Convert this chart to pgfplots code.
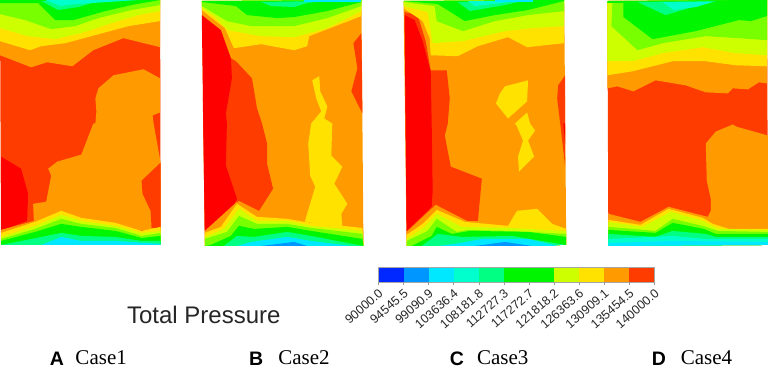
\documentclass[border=0pt]{standalone}
\usepackage{fontspec}
\setmainfont{Liberation Serif}
\newfontfamily\arial{Liberation Sans}
\usepackage{pgfplots}
\pgfplotsset{compat=1.18}
\definecolor{cblue}{RGB}{0,40,255}
\definecolor{cazure}{RGB}{0,150,255}
\definecolor{ccyan}{RGB}{0,232,255}
\definecolor{cteal}{RGB}{0,255,205}
\definecolor{cspring}{RGB}{0,255,130}
\definecolor{cgreen}{RGB}{0,245,0}
\definecolor{clime}{RGB}{120,255,0}
\definecolor{cyg}{RGB}{205,255,0}
\definecolor{cyel}{RGB}{255,226,0}
\definecolor{corg}{RGB}{255,155,0}
\definecolor{cro}{RGB}{255,60,0}
\definecolor{cred}{RGB}{255,0,0}
\newcommand{\poly}[2]{\addplot[fill=#1,draw=none,no markers] coordinates {#2} --cycle;}
\begin{document}
\begin{tikzpicture}
\begin{axis}[
  scale only axis, width=768bp, height=368bp,
  xmin=0, xmax=768, ymin=0, ymax=368, y dir=reverse,
  hide axis, clip=false]
% ---------- Panel A
\poly{cro}{(2,2)(161.5,2)(162,246)(3,246)}
\poly{corg}{(2,57)(33,69)(49,64)(74,68)(95,52)(125,40)(161.5,49)(161.5,2)(2,2)}
\poly{cyel}{(2,43)(32,52)(43,48)(67,45)(93,38)(130,28)(161.5,23)(161.5,2)(2,2)}
\poly{cyg}{(2,30)(30,38)(57,41)(83,35)(113,25)(140,17)(161.5,13)(161.5,2)(2,2)}
\poly{clime}{(2,16)(27,22)(53,31)(77,28)(100,20)(133,12)(161.5,7)(161.5,2)(2,2)}
\poly{cgreen}{(2,5)(20,5)(40,5)(57,22)(75,22)(107,13)(133,7)(161.5,2)(2,2)}
\poly{cspring}{(43,3)(60,12)(80,9)(100,3)}
\poly{cteal}{(47,2)(62,8)(78,6)(140,2)}
\poly{corg}{(97,100)(98,113)(97,125)(95,125)(83,156)(59,163)(50,170)(53,177)(48,203)(35,205)(36,228)(162,232)(162,164)(155,125)(154,117)(161.5,114)(161.5,80)(145,71)(115,77)(100,90)}
\poly{cro}{(162,164)(143,182)(144,195)(152,212)(153,229)(162,229)}
\poly{cred}{(3,158)(23,170)(30,195)(29,222)(3,232)}
\poly{corg}{(3,231)(36,222)(63,212)(83,219)(117,224)(143,232)(162,229)(162,246)(3,246)}
\poly{cyel}{(3,234)(37,223)(63,212)(83,219)(117,224)(143,232)(162,228)(162,246)(3,246)}
\poly{cyg}{(3,238)(37,227)(63,216)(83,222)(117,227)(143,234)(162,232)(162,246)(3,246)}
\poly{clime}{(3,240)(37,230)(63,220)(83,225)(117,229)(143,237)(162,234)(162,246)(3,246)}
\poly{cgreen}{(3,242)(37,233)(63,225)(83,228)(117,232)(143,239)(162,237)(162,246)(3,246)}
\poly{cspring}{(3,246)(33,240)(63,234)(83,237)(117,238)(143,242)(162,242)(162,246)}
\poly{ccyan}{(43,246)(63,238)(83,242)(117,242)(162,245)(162,246)}
% ---------- Panel B
\poly{corg}{(203,3)(362,2)(364,246)(206,247)}
\poly{cro}{(232,60)(237,63)(253,80)(258,110)(263,125)(268,145)(268,165)(274,190)(260,212)(240,202)(206,235)(204,100)}
\poly{cred}{(203,17)(222,32)(232,60)(233,80)(227,115)(228,125)(227,167)(238,200)(232,212)(206,232)}
\poly{cro}{(362,35)(354,45)(358,70)(352,93)(363,115)}
\poly{cyel}{(203,3)(362,2)(362,18)(310,38)(308,48)(295,52)(262,46)(235,50)(226,30)(203,12)}
\poly{cyg}{(203,10)(215,18)(229,32)(262,38)(295,39)(328,30)(362,13)(362,2)(203,3)}
\poly{clime}{(203,8)(228,23)(252,28)(295,28)(328,20)(362,8)(362,2)(203,3)}
\poly{cgreen}{(203,4)(237,8)(248,17)(278,20)(295,19)(328,13)(362,4)(362,2)(203,3)}
\poly{cspring}{(262,4)(272,8)(295,9)(308,5)(325,3)}
\poly{ccyan}{(305,2)(362,2)(362,4)(305,4)}
\poly{cyel}{(313,82)(320,78)(321,93)(328,108)(325,120)(333,125)(332,157)(343,168)(335,185)(348,205)(342,215)(343,228)(304,228)(316,188)(311,177)(309,145)(312,125)(322,113)(317,100)}
\poly{corg}{(206,232)(238,203)(258,216)(288,220)(364,232)(364,247)(206,247)}
\poly{cyel}{(206,234)(222,228)(238,205)(258,218)(288,220)(305,223)(363,229)(364,247)(206,247)}
\poly{cyg}{(206,238)(225,230)(240,210)(258,222)(288,222)(312,227)(363,232)(364,247)(206,247)}
\poly{clime}{(206,240)(228,233)(240,217)(258,225)(288,225)(312,229)(363,235)(364,247)(206,247)}
\poly{cgreen}{(212,246)(232,237)(240,227)(255,230)(288,228)(312,232)(363,240)(364,247)(206,247)}
\poly{cspring}{(225,247)(238,237)(255,238)(288,233)(312,237)(364,247)}
\poly{ccyan}{(238,247)(252,243)(288,238)(312,242)(352,247)}
\poly{cazure}{(262,247)(295,243)(308,247)}
% ---------- Panel C
\poly{corg}{(404,3)(564,2)(566,246)(407,247)}
\poly{cro}{(405,14)(418,17)(426,43)(431,72)(447,72)(450,100)(448,125)(445,137)(451,168)(482,180)(478,222)(467,222)(436,207)(407,235)}
\poly{cred}{(405,17)(415,22)(423,43)(431,73)(432,125)(433,192)(432,208)(407,232)}
\poly{cro}{(565,77)(558,87)(557,100)(560,125)(565,168)}
\poly{cred}{(563,125)(565,125)(565,145)}
\poly{cyel}{(404,3)(564,2)(564,45)(527,49)(508,39)(478,48)(458,58)(431,57)(430,40)(423,23)(405,11)}
\poly{cyg}{(404,8)(428,14)(433,45)(463,43)(505,33)(532,30)(564,28)(564,2)(404,3)}
\poly{clime}{(404,4)(435,8)(437,23)(463,33)(495,23)(528,17)(564,13)(564,2)(404,3)}
\poly{cgreen}{(404,3)(438,6)(465,23)(495,17)(528,12)(564,3)(564,2)}
\poly{cspring}{(458,4)(470,13)(505,7)(522,3)}
\poly{cteal}{(468,3)(475,8)(502,5)(510,3)}
\poly{ccyan}{(495,2)(533,2)(533,3.5)(495,3.5)}
\poly{cyel}{(505,88)(528,82)(527,103)(508,120)(496,105)(500,95)}
\poly{cyel}{(527,114)(530,125)(535,132)(528,142)(534,158)(519,173)(518,158)(523,142)(517,128)(515,125)}
\poly{corg}{(407,233)(436,206)(467,222)(508,226)(566,230)(566,246)(407,247)}
\poly{cyel}{(407,236)(423,225)(437,211)(465,223)(508,227)(517,212)(537,210)(552,225)(566,230)(566,246)(407,247)}
\poly{cyg}{(407,240)(425,228)(437,215)(462,228)(508,229)(566,232)(566,246)(407,247)}
\poly{clime}{(407,242)(428,232)(437,220)(457,233)(468,231)(508,232)(566,235)(566,246)(407,247)}
\poly{cgreen}{(412,247)(432,237)(437,228)(452,235)(470,232)(528,233)(566,238)(566,246)}
\poly{cspring}{(422,247)(438,235)(462,238)(512,237)(566,246)}
\poly{ccyan}{(438,247)(455,245)(482,240)(528,240)(558,247)}
\poly{cazure}{(475,247)(505,243)(532,247)}
% ---------- Panel D
\poly{cro}{(607,3)(766,2)(767,246)(608,247)}
\poly{corg}{(607,90)(617,88)(633,93)(655,82)(685,87)(705,94)(727,95)(732,90)(747,91)(758,84)(766,85)(766,2)(607,3)}
\poly{cyel}{(607,77)(632,73)(672,63)(705,63)(735,67)(766,68)(766,2)(607,3)}
\poly{cyg}{(607,63)(632,63)(662,55)(702,49)(735,55)(766,57)(766,2)(607,3)}
\poly{clime}{(612,5)(611,28)(637,52)(662,45)(705,38)(738,40)(766,42)(766,2)(612,3)}
\poly{cgreen}{(623,5)(623,19)(652,41)(695,33)(738,22)(750,23)(766,18)(766,2)(623,3)}
\poly{cgreen}{(607,3)(766,2)(766,3)(607,5)}
\poly{cspring}{(637,4)(665,17)(692,9)(715,3)}
\poly{cteal}{(662,4)(673,12)(695,9)(712,4)}
\poly{corg}{(705,145)(715,133)(732,126)(735,128)(767,137)(767,232)(707,232)(707,218)(710,212)(710,200)(706,182)}
\poly{corg}{(608,215)(640,223)(668,208)(707,218)(767,225)(767,246)(608,247)}
\poly{cyel}{(608,221)(640,226)(668,210)(702,219)(712,225)(728,230)(767,230)(767,246)(608,247)}
\poly{cyg}{(608,223)(642,228)(670,213)(702,222)(717,230)(767,231)(767,246)(608,247)}
\poly{clime}{(608,228)(655,232)(672,220)(702,227)(717,232)(767,233)(767,246)(608,247)}
\poly{cgreen}{(608,231)(655,234)(672,224)(703,230)(715,235)(767,235)(767,246)(608,247)}
\poly{cspring}{(608,235)(655,238)(672,232)(705,235)(715,238)(767,238)(767,246)(608,247)}
\poly{cteal}{(608,240)(672,237)(705,240)(767,240)(767,246)(608,247)}
\poly{ccyan}{(608,244)(672,242)(767,243)(767,246)(608,247)}
% ---------- Colour bar
\poly{cblue}{(379,268)(404,268)(404,283)(379,283)}
\poly{cazure}{(404,268)(429,268)(429,283)(404,283)}
\poly{ccyan}{(429,268)(454,268)(454,283)(429,283)}
\poly{cteal}{(454,268)(479,268)(479,283)(454,283)}
\poly{cspring}{(479,268)(504,268)(504,283)(479,283)}
\poly{cgreen}{(504,268)(554,268)(554,283)(504,283)}
\poly{cyg}{(554,268)(579,268)(579,283)(554,283)}
\poly{cyel}{(579,268)(604,268)(604,283)(579,283)}
\poly{corg}{(604,268)(629,268)(629,283)(604,283)}
\poly{cro}{(629,268)(654,268)(654,283)(629,283)}
\addplot[gray!70,line width=0.7pt,no markers] coordinates {(379,268)(654,268)(654,283)(379,283)} --cycle;
\pgfplotsinvokeforeach{379,404,429,454,479,504,529,554,579,604,629,654}{
  \addplot[gray!80,line width=0.6pt,no markers] coordinates {(#1,283)(#1,286)};
}
% ---------- Text
\foreach \x/\t in {379/90000.0,404/94545.5,429/99090.9,454/103636.4,479/108181.8,504/112727.3,529/117272.7,554/121818.2,579/126363.6,604/130909.1,629/135454.5,654/140000.0}{
  \edef\tmp{\noexpand\node[anchor=north east,rotate=41,inner sep=0pt,font=\noexpand\arial\noexpand\fontsize{12.5}{14}\noexpand\selectfont,text=black!85] at (axis cs:\x-0.5,289) {\t};}
  \tmp
}
\node[anchor=center,inner sep=0pt,font=\arial\fontsize{24}{26}\selectfont,text=black!85] at (axis cs:205,316) {Total Pressure};
\node[anchor=base west,inner sep=0pt,font=\arial\bfseries\fontsize{19.5}{22}\selectfont] at (axis cs:51.5,366) {A};
\node[anchor=base west,inner sep=0pt,font=\fontsize{21}{24}\selectfont] at (axis cs:77,365) {Case1};
\node[anchor=base west,inner sep=0pt,font=\arial\bfseries\fontsize{19.5}{22}\selectfont] at (axis cs:250,366) {B};
\node[anchor=base west,inner sep=0pt,font=\fontsize{21}{24}\selectfont] at (axis cs:279,365) {Case2};
\node[anchor=base west,inner sep=0pt,font=\arial\bfseries\fontsize{19.5}{22}\selectfont] at (axis cs:450,366) {C};
\node[anchor=base west,inner sep=0pt,font=\fontsize{21}{24}\selectfont] at (axis cs:477,365) {Case3};
\node[anchor=base west,inner sep=0pt,font=\arial\bfseries\fontsize{19.5}{22}\selectfont] at (axis cs:651,366) {D};
\node[anchor=base west,inner sep=0pt,font=\fontsize{21}{24}\selectfont] at (axis cs:680,365) {Case4};
\end{axis}
\end{tikzpicture}
\end{document}
